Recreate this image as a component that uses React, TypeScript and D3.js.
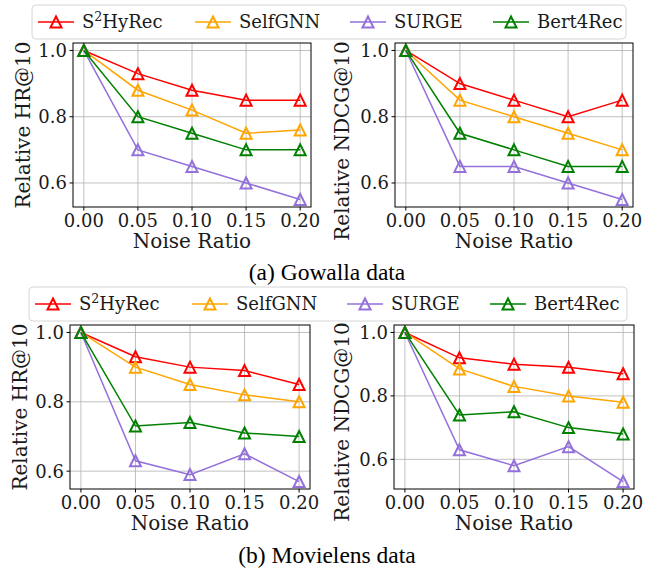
import React from "react";
import * as d3 from "d3";

const noiseRatios = [0, 0.05, 0.1, 0.15, 0.2];
const methods = ["S2HyRec", "SelfGNN", "SURGE", "Bert4Rec"];
const methodColors = ["#ff0000", "#ffa500", "#9370db", "#008000"];

// one row per method, in the order of `methods`
const gowallaHR = [
  [1.0, 0.93, 0.88, 0.85, 0.85],
  [1.0, 0.88, 0.82, 0.75, 0.76],
  [1.0, 0.7, 0.65, 0.6, 0.55],
  [1.0, 0.8, 0.75, 0.7, 0.7],
];
const gowallaNDCG = [
  [1.0, 0.9, 0.85, 0.8, 0.85],
  [1.0, 0.85, 0.8, 0.75, 0.7],
  [1.0, 0.65, 0.65, 0.6, 0.55],
  [1.0, 0.75, 0.7, 0.65, 0.65],
];
const movielensHR = [
  [1.0, 0.93, 0.9, 0.89, 0.85],
  [1.0, 0.9, 0.85, 0.82, 0.8],
  [1.0, 0.63, 0.59, 0.65, 0.57],
  [1.0, 0.73, 0.74, 0.71, 0.7],
];
const movielensNDCG = [
  [1.0, 0.92, 0.9, 0.89, 0.87],
  [1.0, 0.885, 0.83, 0.8, 0.78],
  [1.0, 0.63, 0.58, 0.64, 0.53],
  [1.0, 0.74, 0.75, 0.7, 0.68],
];

const FONT = "'DejaVu Serif', serif";
const CAPTION_FONT = "'Liberation Serif', 'Times New Roman', serif";
const FS = 18; // ticks + legend
const LABEL_FS = 20; // axis labels
const TRI = 11;

const panels = [
  { data: gowallaHR, ylabel: "Relative HR@10", left: 73, right: 311, top: 43, bottom: 207, labelOff: 50, labelDy: 0 },
  { data: gowallaNDCG, ylabel: "Relative NDCG@10", left: 395, right: 633, top: 43, bottom: 207, labelOff: 53, labelDy: 16 },
  { data: movielensHR, ylabel: "Relative HR@10", left: 70, right: 310, top: 325, bottom: 489, labelOff: 50, labelDy: 0 },
  { data: movielensNDCG, ylabel: "Relative NDCG@10", left: 394, right: 634, top: 325, bottom: 489, labelOff: 52, labelDy: 15 },
];

const legends = [
  { x: 32, y: 5, w: 594, h: 34, lineX: 38 },
  { x: 29, y: 287, w: 598, h: 34, lineX: 35 },
];
const legendItemOffsets = [0, 157, 312, 455];

const captions = [
  { text: "(a) Gowalla data", y: 280 },
  { text: "(b) Movielens data", y: 563 },
];

const triPath = (s: number) =>
  `M0,${-s / 2}L${s / 2},${s / 2}L${-s / 2},${s / 2}Z`;

function MethodLabel({ name }: { name: string }) {
  if (name === "S2HyRec") {
    return (
      <>
        S
        <tspan fontSize={FS * 0.7} dy={-7}>
          2
        </tspan>
        <tspan dy={7}>HyRec</tspan>
      </>
    );
  }
  return <>{name}</>;
}

function Panel({ p }: { p: (typeof panels)[number] }) {
  const all = p.data.flat();
  const lo = d3.min(all)!;
  const hi = d3.max(all)!;
  const pad = (hi - lo) * 0.05;
  const x = d3.scaleLinear().domain([-0.01, 0.21]).range([p.left, p.right]);
  const y = d3.scaleLinear().domain([lo - pad, hi + pad]).range([p.bottom, p.top]);
  const yTicks = y.ticks(3);
  const line = d3
    .line<number>()
    .x((_, i) => x(noiseRatios[i]))
    .y((d) => y(d));

  return (
    <g>
      {/* grid */}
      {noiseRatios.map((t) => (
        <line key={"gx" + t} x1={x(t)} x2={x(t)} y1={p.top} y2={p.bottom} stroke="#b0b0b0" strokeWidth={0.8} />
      ))}
      {yTicks.map((t) => (
        <line key={"gy" + t} x1={p.left} x2={p.right} y1={y(t)} y2={y(t)} stroke="#b0b0b0" strokeWidth={0.8} />
      ))}

      {/* series */}
      {p.data.map((vals, si) => (
        <g key={methods[si]}>
          <path d={line(vals)!} fill="none" stroke={methodColors[si]} strokeWidth={1.5} />
          {vals.map((v, i) => (
            <path
              key={i}
              d={triPath(TRI)}
              transform={`translate(${x(noiseRatios[i])},${y(v)})`}
              fill="none"
              stroke={methodColors[si]}
              strokeWidth={2}
            />
          ))}
        </g>
      ))}

      {/* frame */}
      <rect x={p.left} y={p.top} width={p.right - p.left} height={p.bottom - p.top} fill="none" stroke="#000" strokeWidth={1} />

      {/* x axis */}
      {noiseRatios.map((t) => (
        <g key={"xt" + t}>
          <line x1={x(t)} x2={x(t)} y1={p.bottom} y2={p.bottom + 3.5} stroke="#000" />
          <text x={x(t)} y={p.bottom + 20} textAnchor="middle" fontFamily={FONT} fontSize={FS} fill="#1a1a1a">
            {d3.format(".2f")(t)}
          </text>
        </g>
      ))}
      <text x={(p.left + p.right) / 2} y={p.bottom + 41} textAnchor="middle" fontFamily={FONT} fontSize={LABEL_FS} fill="#1a1a1a">
        Noise Ratio
      </text>

      {/* y axis */}
      {yTicks.map((t) => (
        <g key={"yt" + t}>
          <line x1={p.left - 3.5} x2={p.left} y1={y(t)} y2={y(t)} stroke="#000" />
          <text x={p.left - 6} y={y(t)} dy="0.36em" textAnchor="end" fontFamily={FONT} fontSize={FS} fill="#1a1a1a">
            {d3.format(".1f")(t)}
          </text>
        </g>
      ))}
      <text
        transform={`translate(${p.left - p.labelOff},${(p.top + p.bottom) / 2 + p.labelDy}) rotate(-90)`}
        dy="0.36em"
        textAnchor="middle"
        fontFamily={FONT}
        fontSize={LABEL_FS}
        fill="#1a1a1a"
      >
        {p.ylabel}
      </text>
    </g>
  );
}

function Legend({ l }: { l: (typeof legends)[number] }) {
  const cy = l.y + l.h / 2;
  return (
    <g>
      <rect x={l.x} y={l.y} width={l.w} height={l.h} rx={4} fill="#fff" stroke="#d6d6d6" strokeWidth={1} />
      {methods.map((m, i) => {
        const lx = l.lineX + legendItemOffsets[i];
        return (
          <g key={m}>
            <line x1={lx} x2={lx + 36} y1={cy} y2={cy} stroke={methodColors[i]} strokeWidth={1.5} />
            <path d={triPath(TRI)} transform={`translate(${lx + 18},${cy})`} fill="none" stroke={methodColors[i]} strokeWidth={2} />
            <text x={lx + 44} y={cy} dy="0.36em" fontFamily={FONT} fontSize={FS} fill="#1a1a1a">
              <MethodLabel name={m} />
            </text>
          </g>
        );
      })}
    </g>
  );
}

export default function App() {
  const width = 655;
  const height = 569;
  return (
    <svg
      width={width}
      height={height}
      style={{ position: "absolute", left: 0, top: 0, background: "#fff" }}
    >
      {panels.map((p, i) => (
        <Panel key={i} p={p} />
      ))}
      {legends.map((l, i) => (
        <Legend key={i} l={l} />
      ))}
      {captions.map((c) => (
        <text key={c.text} x={327} y={c.y} textAnchor="middle" fontFamily={CAPTION_FONT} fontSize={23.5} fill="#000">
          {c.text}
        </text>
      ))}
    </svg>
  );
}
